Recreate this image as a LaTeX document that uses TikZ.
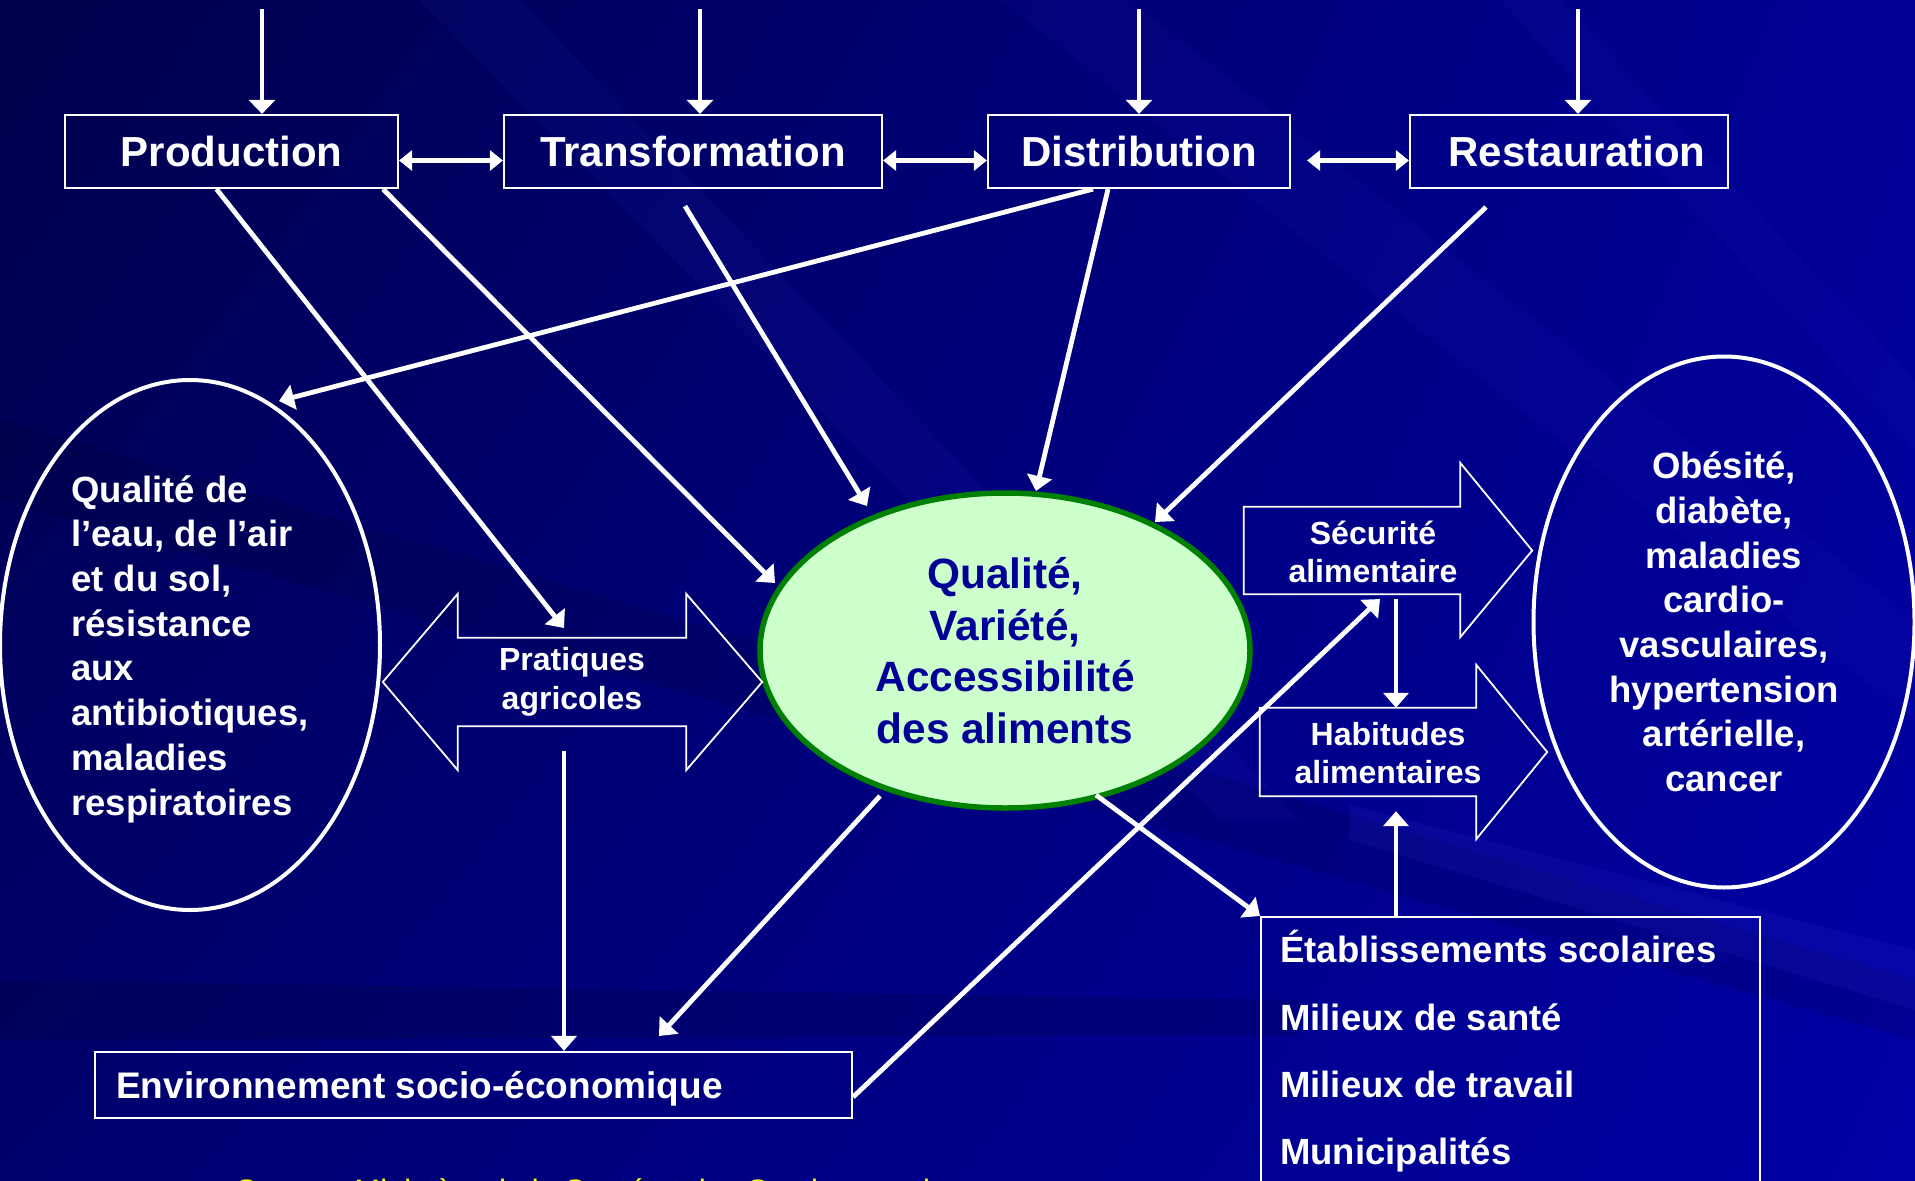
\documentclass[tikz,border=0pt]{standalone}
\usepackage{fontspec}
\setmainfont{Liberation Sans}
\usetikzlibrary{arrows.meta,calc,shapes.geometric,shadings}
\definecolor{bgTL}{RGB}{0,0,75}
\definecolor{bgTR}{RGB}{0,0,150}
\definecolor{bgBL}{RGB}{0,0,110}
\definecolor{bgBR}{RGB}{0,0,165}
\definecolor{streak}{RGB}{60,60,220}
\definecolor{cfill}{RGB}{204,255,204}
\definecolor{cborder}{RGB}{0,128,0}
\definecolor{ctext}{RGB}{0,0,150}
\definecolor{srcyellow}{RGB}{255,255,0}
\begin{document}
\begin{tikzpicture}[x=1pt,y=-1pt,
  every node/.style={text=white, font=\bfseries},
  topbox/.style={draw=white, line width=2.2pt, minimum width=333pt, minimum height=73pt, inner sep=0pt,
    font=\fontsize{42}{51}\selectfont\bfseries},
  ovalw/.style={ellipse, draw=white, line width=4pt, inner sep=0pt,
    font=\fontsize{36.5}{44.7}\selectfont\bfseries},
  body/.style={inner sep=0pt, font=\fontsize{32}{38.5}\selectfont\bfseries, align=center},
  blk/.style={draw=white, line width=1.8pt, line join=miter},
  conn/.style={draw=white, line width=4.8pt, -{Triangle[length=15pt,width=25pt]}},
  toparr/.style={draw=white, line width=4.8pt, -{Triangle[length=14pt,width=26pt]}},
  dbl/.style={draw=white, line width=5.5pt, {Triangle[length=13pt,width=20pt]}-{Triangle[length=13pt,width=20pt]}},
  lst/.style={anchor=base west, inner sep=0pt, font=\fontsize{36.5}{44.7}\selectfont\bfseries}
]
\useasboundingbox (0,0) rectangle (1915,1181);
\begin{scope}
\clip (0,0) rectangle (1915,1181);
% background
\shade[upper left=bgTL, upper right=bgTR, lower left=bgBL, lower right=bgBR] (0,0) rectangle (1915,1181);
\fill[streak, opacity=0.07] (420,0) -- (520,0) -- (1300,820) -- (1220,820) -- cycle;
\fill[streak, opacity=0.06] (1000,0) -- (1130,0) -- (1915,620) -- (1915,720) -- cycle;
\fill[streak, opacity=0.06] (1500,0) -- (1560,0) -- (1915,380) -- (1915,450) -- cycle;
\fill[black, opacity=0.10] (0,420) -- (1915,980) -- (1915,1040) -- (0,500) -- cycle;
\fill[black, opacity=0.12] (0,980) -- (1300,1000) -- (1300,1035) -- (0,1040) -- cycle;
\fill[streak, opacity=0.12] (1350,805) -- (1915,950) -- (1915,1010) -- (1350,840) -- cycle;

% top boxes
\node[topbox] (prod) at (231.5,151.5) {Production};
\node[topbox, minimum width=378pt] (trans) at (693,151.5) {Transformation};
\node[topbox, minimum width=302pt] (dist) at (1139,151.5) {Distribution};
\node[topbox, minimum width=318pt] (rest) at (1569,151.5) {\hspace*{16pt}Restauration};

% incoming arrows from top
\coordinate (in1) at (262,9);
\coordinate (in2) at (700,9);
\coordinate (in3) at (1139,9);
\coordinate (in4) at (1578,9);
\draw[toparr] (in1) -- (in1 |- prod.north);
\draw[toparr] (in2) -- (in2 |- trans.north);
\draw[toparr] (in3) -- (in3 |- dist.north);
\draw[toparr] (in4) -- (in4 |- rest.north);

% double arrows between boxes
\draw[dbl] ([yshift=-9pt]prod.east) -- ([yshift=-9pt]trans.west);
\draw[dbl] ([yshift=-9pt]trans.east) -- ([yshift=-9pt]dist.west);
\draw[dbl] ([shift={(16pt,-9pt)}]dist.east) -- ([yshift=-9pt]rest.west);

% ellipses
\node[ovalw, minimum width=380pt, minimum height=530pt] (envq) at (190,645) {};
\node[inner sep=0pt, align=left, font=\fontsize{36.5}{44.7}\selectfont\bfseries] (envqT) at (190,649)
  {Qualité de\\l’eau, de l’air\\et du sol,\\résistance\\aux\\antibiotiques,\\maladies\\respiratoires};
\node[ovalw, minimum width=381pt, minimum height=531pt, align=center] (sante) at (1724,622)
  {Obésité,\\diabète,\\maladies\\cardio-\\vasculaires,\\hypertension\\artérielle,\\cancer};
\node[ellipse, fill=cfill, draw=cborder, line width=5.5pt, inner sep=0pt, minimum width=490pt, minimum height=315pt,
  text=ctext, align=center, font=\fontsize{42.4}{51.7}\selectfont\bfseries] (cent) at (1005,650.5)
  {Qualité,\\Variété,\\Accessibilité\\des aliments};

% block arrows
\node[body, minimum width=228pt, minimum height=88pt] (prat) at (572,682) {Pratiques\\agricoles};
\draw[blk] (prat.north west) -- (prat.north east) -- ([yshift=44pt]prat.north east) -- ([xshift=76pt]prat.east)
  -- ([yshift=-44pt]prat.south east) -- (prat.south east) -- (prat.south west) -- ([yshift=-44pt]prat.south west)
  -- ([xshift=-75pt]prat.west) -- ([yshift=44pt]prat.north west) -- cycle;

\node[inner sep=0pt, minimum width=216pt, minimum height=87pt] (secu) at (1352,550.5) {};
\draw[blk] (secu.north west) -- (secu.north east) -- ([yshift=44pt]secu.north east) -- ([xshift=72pt]secu.east)
  -- ([yshift=-43pt]secu.south east) -- (secu.south east) -- (secu.south west) -- cycle;
\node[body] (secuT) at (1373,552) {Sécurité\\alimentaire};

\node[inner sep=0pt, minimum width=216pt, minimum height=88pt] (habi) at (1368,752) {};
\draw[blk] (habi.north west) -- (habi.north east) -- ([yshift=43pt]habi.north east) -- ([xshift=71pt]habi.east)
  -- ([yshift=-43pt]habi.south east) -- (habi.south east) -- (habi.south west) -- cycle;
\node[body] (habiT) at (1388,753) {Habitudes\\alimentaires};

% bottom boxes
\node[draw=white, line width=2.2pt, minimum width=757pt, minimum height=66pt, inner sep=0pt] (env) at (473.5,1085) {};
\node[anchor=base west, inner sep=0pt, font=\fontsize{37}{45}\selectfont\bfseries] (envT) at (116,1098) {Environnement socio-économique};

\node[draw=white, line width=2.2pt, anchor=north west, minimum width=499pt, minimum height=320pt, inner sep=0pt] (etab) at (1260,916) {};
\node[lst] (etab1) at (1280,962) {Établissements scolaires};
\node[lst] (etab2) at (1280,1030) {Milieux de santé};
\node[lst] (etab3) at (1280,1097) {Milieux de travail};
\node[lst] (etab4) at (1280,1164) {Municipalités};

\node[anchor=base west, inner sep=0pt, text=srcyellow, font=\fontsize{31}{36}\selectfont] (src) at (236,1201)
  {Source: Ministère de la Santé et des Services sociaux};

% arrow end points
\coordinate (t1) at (564,628);
\coordinate (t2) at (775,583);
\coordinate (t3) at (867,506);
\coordinate (t4) at (279,401);
\coordinate (t5) at (1036,491);
\coordinate (t6) at (1155,522);
\coordinate (s7) at (880,796);
\coordinate (t7) at (659,1036);
\coordinate (s8) at (1096,795);
\coordinate (t9) at (1380,599);
\coordinate (s10) at (564,751);
\coordinate (xh) at (1396,0);

\draw[conn] ([xshift=-15pt]prod.south) -- (t1);
\draw[conn] ([xshift=151.5pt]prod.south) -- (t2);
\draw[conn] ([shift={(-8pt,-17pt)}]trans.south) -- (t3);
\draw[conn] ([xshift=-46pt]dist.south) -- (t4);
\draw[conn] ([xshift=-31pt]dist.south) -- (t5);
\draw[conn] ([shift={(-83pt,-18pt)}]rest.south) -- (t6);
\draw[conn] (s7) -- (t7);
\draw[conn] (s8) -- (etab.north west);
\draw[conn] ([yshift=-12pt]env.east) -- (t9);
\draw[conn] (s10) -- (s10 |- env.north);
\draw[conn] (xh |- t9) -- (xh |- habi.north);
\draw[conn, shorten >=15pt] (xh |- etab.north) -- (xh |- habi.south);
\end{scope}
\end{tikzpicture}
\end{document}
